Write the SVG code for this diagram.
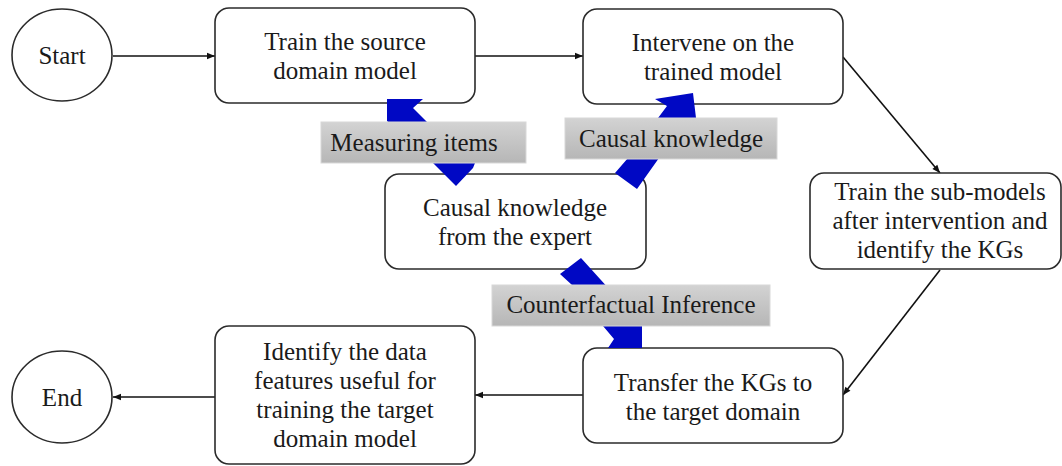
<svg xmlns="http://www.w3.org/2000/svg" width="1062" height="466" viewBox="0 0 1062 466">
  <style>
    .node { fill: #ffffff; stroke: #2b2b2b; stroke-width: 1.6; }
    .t { font-size: 25px; fill: #1a1a1a; text-anchor: middle; }
    .conn { stroke: #111; stroke-width: 1.6; fill: none; marker-end: url(#ah); }
    .blue { fill: #0008c4; }
    .lab { fill: url(#g); stroke: #d8d8d8; stroke-width: 1; }
  </style>
  <defs>
    <marker id="ah" viewBox="0 0 10 10" refX="10" refY="5" markerWidth="9" markerHeight="8" orient="auto" markerUnits="userSpaceOnUse">
      <path d="M0,1 L10,5 L0,9 z" fill="#111"/>
    </marker>
    <linearGradient id="g" x1="0" y1="0" x2="0" y2="1">
      <stop offset="0" stop-color="#d3d3d3"/>
      <stop offset="1" stop-color="#b6b6b6"/>
    </linearGradient>
  </defs>
  <rect width="1062" height="466" fill="#ffffff"/>

  <g id="connectors">
    <line class="conn" x1="113" y1="56" x2="215" y2="56"/>
    <line class="conn" x1="475" y1="56" x2="583" y2="56"/>
    <line class="conn" x1="843" y1="57" x2="940" y2="173"/>
    <line class="conn" x1="940" y1="270" x2="843" y2="395"/>
    <line class="conn" x1="583" y1="395" x2="475" y2="395"/>
    <line class="conn" x1="215" y1="397" x2="113" y2="397"/>
  </g>

  <g font-family="Liberation Serif, Times New Roman, serif">
  <g id="start">
    <ellipse class="node" cx="62" cy="55" rx="50" ry="46"/>
    <text class="t" x="62" y="64">Start</text>
  </g>
  <g id="train-source">
    <rect class="node" x="215" y="8" width="260" height="95" rx="14"/>
    <text class="t" x="345" y="50">Train the source</text>
    <text class="t" x="345" y="79">domain model</text>
  </g>
  <g id="intervene">
    <rect class="node" x="583" y="9" width="260" height="95" rx="14"/>
    <text class="t" x="713" y="51">Intervene on the</text>
    <text class="t" x="713" y="80">trained model</text>
  </g>
  <g id="sub-models">
    <rect class="node" x="810" y="173" width="251" height="96" rx="14"/>
    <text class="t" x="940" y="200">Train the sub-models</text>
    <text class="t" x="940" y="229">after intervention and</text>
    <text class="t" x="940" y="258">identify the KGs</text>
  </g>
  <g id="expert">
    <rect class="node" x="385" y="174" width="261" height="95" rx="14"/>
    <text class="t" x="515" y="216">Causal knowledge</text>
    <text class="t" x="515" y="245">from the expert</text>
  </g>
  <g id="transfer">
    <rect class="node" x="583" y="348" width="260" height="95" rx="14"/>
    <text class="t" x="713" y="391">Transfer the KGs to</text>
    <text class="t" x="713" y="420">the target domain</text>
  </g>
  <g id="identify">
    <rect class="node" x="215" y="326" width="260" height="138" rx="14"/>
    <text class="t" x="345" y="360">Identify the data</text>
    <text class="t" x="345" y="389">features useful for</text>
    <text class="t" x="345" y="418">training the target</text>
    <text class="t" x="345" y="447">domain model</text>
  </g>
  <g id="end">
    <ellipse class="node" cx="62" cy="397" rx="50" ry="46"/>
    <text class="t" x="62" y="406">End</text>
  </g>

  <g id="blue-arrows">
    <polygon class="blue" points="387,99 423,99 413,108 432,127 475,158 475,163 473,168 456,186 433,163 410,140 387,121"/>
    <polygon class="blue" points="655,99 693,93 696,118 659,158 637,189 615,173 628,158 658,118 667,106"/>
    <polygon class="blue" points="560,274 581,258 610,290 642,322 642,348 608,348 614,339 603,326 572,285"/>
  </g>

  <g id="label-measuring">
    <rect class="lab" x="321" y="122" width="205" height="41"/>
    <text class="t" x="414" y="151">Measuring items</text>
  </g>
  <g id="label-causal">
    <rect class="lab" x="565" y="118" width="212" height="41"/>
    <text class="t" x="671" y="147">Causal knowledge</text>
  </g>
  <g id="label-counterfactual">
    <rect class="lab" x="492" y="285" width="278" height="41"/>
    <text class="t" x="631" y="313">Counterfactual Inference</text>
  </g>
  </g>
</svg>
